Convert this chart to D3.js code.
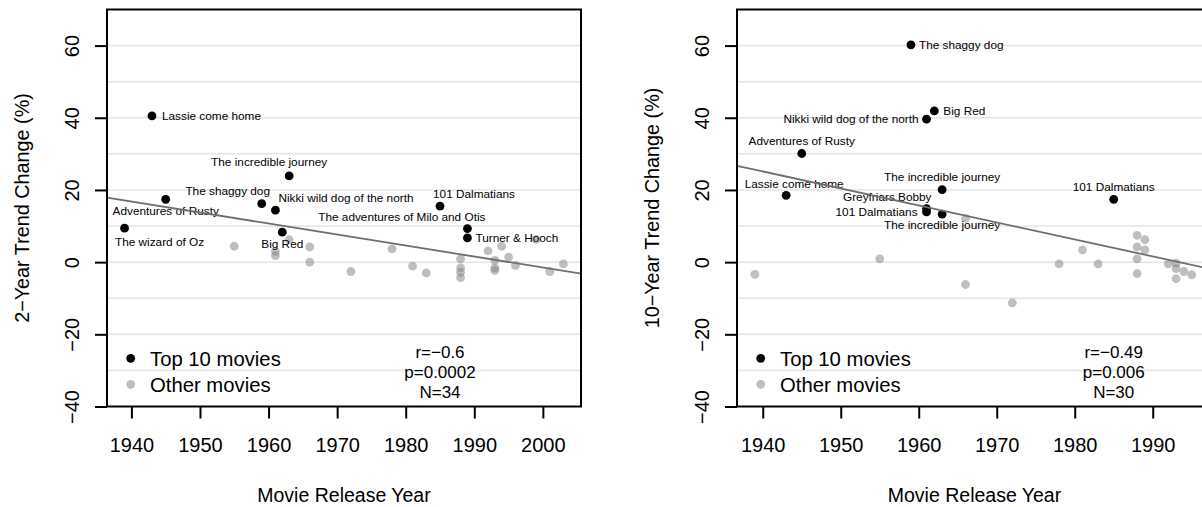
<!DOCTYPE html>
<html>
<head>
<meta charset="utf-8">
<script src="https://cdn.jsdelivr.net/npm/d3@7"></script>
<style>
  body { margin: 0; background: #fff; overflow: hidden; }
  text { font-family: "Liberation Sans", Arial, Helvetica, sans-serif; fill: #000; }
</style>
</head>
<body>
<div id="chart"></div>
<script>
// ---- data: 2-year trend (left panel)
const topNames2 = ["The wizard of Oz", "Lassie come home", "Adventures of Rusty", "The shaggy dog",
                   "Nikki wild dog of the north", "Big Red", "The incredible journey", "101 Dalmatians",
                   "The adventures of Milo and Otis", "Turner & Hooch"];
const topYears2 = [1939, 1943, 1945, 1959, 1961, 1962, 1963, 1985, 1989, 1989];
const topVals2  = [9.4, 40.5, 17.4, 16.2, 14.4, 8.3, 23.9, 15.5, 9.3, 6.7];
const otherYears2 = [1955, 1961, 1961, 1963, 1966, 1966, 1972, 1978, 1981, 1983,
                     1988, 1988, 1988, 1988, 1992, 1993, 1993, 1993, 1994, 1995,
                     1996, 1999, 2001, 2003];
const otherVals2  = [4.4, 3.0, 1.8, 6.2, 4.2, 0.0, -2.6, 3.7, -1.1, -3.0,
                     0.9, -1.6, -2.8, -4.3, 3.1, 0.5, -1.6, -2.3, 4.4, 1.4,
                     -0.9, 6.3, -2.6, -0.5];
const fitYears2 = [1936.44, 2005.56];
const fitVals2  = [17.9, -3.2];
const stats2 = ["r=\u22120.6", "p=0.0002", "N=34"];

// ---- data: 10-year trend (right panel)
const topNames10 = ["The shaggy dog", "Big Red", "Nikki wild dog of the north", "Adventures of Rusty",
                    "Lassie come home", "The incredible journey", "Greyfriars Bobby", "101 Dalmatians",
                    "The incredible journey", "101 Dalmatians"];
const topYears10 = [1959, 1962, 1961, 1945, 1943, 1963, 1961, 1961, 1963, 1985];
const topVals10  = [60.2, 41.9, 39.6, 30.1, 18.5, 20.1, 14.8, 13.9, 13.3, 17.4];
const otherYears10 = [1939, 1955, 1966, 1966, 1972, 1978, 1981, 1983, 1988, 1988,
                      1988, 1988, 1989, 1989, 1992, 1993, 1993, 1993, 1994, 1995];
const otherVals10  = [-3.4, 0.9, 12.1, -6.2, -11.3, -0.5, 3.4, -0.5, 7.4, 4.2,
                      0.9, -3.2, 6.2, 3.4, -0.5, -0.3, -1.8, -4.6, -2.6, -3.5];
const fitYears10 = [1936.7, 1997.6];
const fitVals10  = [26.7, -2.0];
const stats10 = ["r=\u22120.49", "p=0.006", "N=30"];

const yTicks = [-40, -20, 0, 20, 40, 60];
const gridVals = d3.range(-30, 70, 10);
const legendNames = ["Top 10 movies", "Other movies"];

// label placement (pixels): anchor, dx, dy
const labelPos2 = [["middle", 35, 18], ["start", 10, 4.5], ["middle", 0, 16], ["middle", -34, -9],
                   ["start", 3, -8], ["middle", 0, 16], ["middle", -20, -9.5], ["middle", 34, -8],
                   ["end", 18, -7.5], ["start", 8, 4.5]];
const labelPos10 = [["start", 8, 4], ["start", 9, 4], ["end", -8, 4], ["middle", 0, -9],
                    ["middle", 8, -7.5], ["middle", 0, -8.5], ["end", 5, -7.5], ["end", -9, 4],
                    ["middle", 0, 15], ["middle", 0, -8]];

const svg = d3.select('#chart').append('svg')
  .attr('width', 1202)
  .attr('height', 507);

function drawPanel(p) {
  const x = d3.scaleLinear().domain(p.xDomain).range([p.left, p.right]);
  const y = d3.scaleLinear().domain([-40, 70]).range([406.5, 9.5]);
  const g = svg.append('g');

  // grid
  g.selectAll('line.grid').data(gridVals).enter().append('line')
    .attr('x1', p.left).attr('x2', p.right)
    .attr('y1', d => y(d)).attr('y2', d => y(d))
    .attr('stroke', '#e4e4e4').attr('stroke-width', 1.5);

  // other movies
  g.selectAll('circle.other').data(p.otherYears).enter().append('circle')
    .attr('cx', d => x(d))
    .attr('cy', (d, i) => y(p.otherVals[i]))
    .attr('r', 4.4)
    .attr('fill', '#808080').attr('fill-opacity', 0.5);

  // top 10
  g.selectAll('circle.top').data(p.topYears).enter().append('circle')
    .attr('cx', d => x(d))
    .attr('cy', (d, i) => y(p.topVals[i]))
    .attr('r', 4.4)
    .attr('fill', '#000');

  g.selectAll('text.lab').data(p.topNames).enter().append('text')
    .attr('x', (d, i) => x(p.topYears[i]) + p.labels[i][1])
    .attr('y', (d, i) => y(p.topVals[i]) + p.labels[i][2])
    .attr('text-anchor', (d, i) => p.labels[i][0])
    .style('font-size', '11.8px')
    .text(d => d);

  // regression line
  g.append('line')
    .attr('x1', x(p.fitYears[0])).attr('y1', y(p.fitVals[0]))
    .attr('x2', x(p.fitYears[1])).attr('y2', y(p.fitVals[1]))
    .attr('stroke', '#6e6e6e').attr('stroke-width', 1.8);

  // legend
  const leg = g.append('g');
  legendNames.forEach((name, i) => {
    leg.append('circle')
      .attr('cx', p.left + 23.7).attr('cy', 358.3 + i * 26)
      .attr('r', 4.4)
      .attr('fill', i === 0 ? '#000' : '#808080')
      .attr('fill-opacity', i === 0 ? 1 : 0.5);
    leg.append('text')
      .attr('x', p.left + 43).attr('y', 358.3 + i * 26)
      .attr('dy', '0.36em')
      .style('font-size', '20.3px')
      .text(name);
  });

  // stats
  g.selectAll('text.stat').data(p.stats).enter().append('text')
    .attr('x', x(1985))
    .attr('y', (d, i) => y(-25) + i * 19.6)
    .attr('dy', '0.36em')
    .attr('text-anchor', 'middle')
    .style('font-size', '17px')
    .text(d => d);

  // box
  g.append('rect')
    .attr('x', p.left).attr('y', 9.5)
    .attr('width', p.right - p.left).attr('height', 397)
    .attr('fill', 'none').attr('stroke', '#000').attr('stroke-width', 2);

  // axes
  const xAxis = d3.axisBottom(x).tickValues(p.xTicks).tickFormat(d3.format('d'))
    .tickSize(12).tickPadding(19);
  const gx = g.append('g')
    .attr('transform', 'translate(0,406.5)')
    .call(xAxis);
  gx.select('.domain').remove();
  gx.selectAll('line').attr('stroke-width', 2);
  gx.selectAll('text').style('font-size', '20px').style('font-family', '"Liberation Sans", Arial, sans-serif');

  const yAxis = d3.axisLeft(y).tickValues(yTicks).tickSize(12);
  const gy = g.append('g')
    .attr('transform', `translate(${p.left},0)`)
    .call(yAxis);
  gy.select('.domain').remove();
  gy.selectAll('line').attr('stroke-width', 2);
  gy.selectAll('text')
    .attr('transform', 'rotate(-90)')
    .attr('x', 0).attr('y', -35).attr('dy', '0.36em')
    .attr('text-anchor', 'middle')
    .style('font-size', '20px').style('font-family', '"Liberation Sans", Arial, sans-serif');

  // titles
  g.append('text')
    .attr('x', (p.left + p.right) / 2).attr('y', 495)
    .attr('dy', '0.36em').attr('text-anchor', 'middle')
    .style('font-size', '19.5px')
    .text('Movie Release Year');
  g.append('text')
    .attr('transform', `translate(${p.left - 85},208) rotate(-90)`)
    .attr('dy', '0.36em').attr('text-anchor', 'middle')
    .style('font-size', '19.8px')
    .text(p.yTitle);
}

drawPanel({
  left: 107, right: 581, xDomain: [1936.44, 2005.56],
  xTicks: [1940, 1950, 1960, 1970, 1980, 1990, 2000],
  topNames: topNames2, topYears: topYears2, topVals: topVals2,
  otherYears: otherYears2, otherVals: otherVals2,
  fitYears: fitYears2, fitVals: fitVals2, stats: stats2,
  labels: labelPos2, yTitle: '2\u2212Year Trend Change (%)'
});

drawPanel({
  left: 737, right: 1212, xDomain: [1936.7, 1997.6],
  xTicks: [1940, 1950, 1960, 1970, 1980, 1990],
  topNames: topNames10, topYears: topYears10, topVals: topVals10,
  otherYears: otherYears10, otherVals: otherVals10,
  fitYears: fitYears10, fitVals: fitVals10, stats: stats10,
  labels: labelPos10, yTitle: '10\u2212Year Trend Change (%)'
});
</script>
</body>
</html>
